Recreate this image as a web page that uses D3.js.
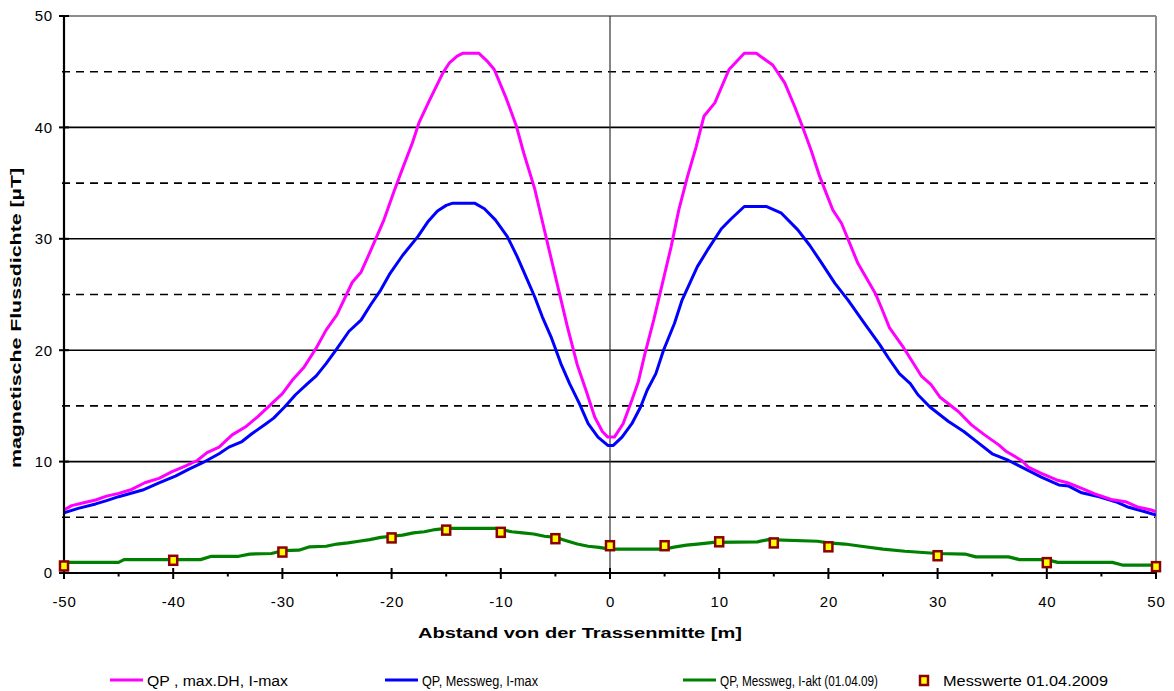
<!DOCTYPE html>
<html><head><meta charset="utf-8">
<script src="https://cdn.jsdelivr.net/npm/d3@7"></script>
<style>body{margin:0;background:#fff}svg{display:block}text{font-family:"Liberation Sans",Arial,sans-serif}</style>
</head><body><svg id="c" width="1174" height="691"></svg>
<script>
// ---- data ----
const xTicks = [-50,-40,-30,-20,-10,0,10,20,30,40,50];
const yTicks = [0,10,20,30,40,50];
const yMinor = [5,15,25,35,45];
const xTitle = "Abstand von der Trassenmitte [m]";
const yTitle = "magnetische Flussdichte [µT]";
const seriesNames = ["QP , max.DH, I-max","QP, Messweg, I-max","QP, Messweg, I-akt (01.04.09)","Messwerte 01.04.2009"];

const magentaX = [-50,-49.3,-48.2,-47.1,-46.1,-45,-43.8,-42.6,-41.3,-40.1,-38.9,-37.8,-36.9,-35.8,-34.6,-33.4,-32.3,-31.1,-30,-29.1,-28,-26.9,-26,-25,-23.6,-22.8,-21.8,-20.7,-19.8,-19,-18.1,-17.5,-16.6,-15.3,-14.7,-14,-13.5,-12,-11.2,-10.6,-9.5,-8.6,-7.9,-6.9,-6.3,-5.6,-4.7,-3.9,-3,-2.2,-1.4,-0.7,-0.2,0.4,1.2,2,2.6,3.2,4,4.8,5.6,6.3,7.1,7.9,8.6,9.6,10.9,12.3,13.4,14.9,16,16.9,17.5,18.4,19.2,20.4,21.2,22.7,24.3,24.9,25.6,26.9,28.5,29.4,30.2,31.1,31.9,33.1,34.3,35.6,36.3,37.7,38.3,39.5,40.9,41.9,43.2,44.4,45.9,47.2,48.4,49.6,50];
const magentaY = [5.65,6.05,6.3,6.55,6.9,7.15,7.5,8.1,8.5,9.1,9.6,10.1,10.8,11.3,12.4,13.1,14,15.1,16.1,17.3,18.5,20.2,21.8,23.2,26.1,27,29.2,31.7,34.2,36.3,38.6,40.4,42.3,44.9,45.8,46.4,46.65,46.65,45.9,45.2,42.6,40.2,37.7,34.5,32,29.1,25.4,22.1,18.7,16.4,14,12.7,12.2,12.2,13.4,15.5,17.2,19.7,22.7,26,29.3,32.6,35.6,38.3,41,42.2,45.2,46.65,46.65,45.6,44,41.9,40.4,38,35.6,32.6,31.4,27.8,25.1,23.7,22,20.2,17.7,16.9,15.8,15.1,14.5,13.3,12.4,11.5,10.9,10.1,9.5,8.95,8.35,8.1,7.6,7.1,6.6,6.4,5.9,5.65,5.5];

const blueX = [-50,-48.7,-47.1,-46.1,-45,-42.8,-41.3,-39.8,-38.6,-37.3,-35.8,-34.9,-33.7,-32.8,-31.5,-30.8,-29.8,-28.8,-27.7,-26.9,-26,-25.1,-23.9,-22.8,-21.9,-21,-20.2,-19,-17.6,-16.7,-15.8,-15,-14.4,-12.4,-11.5,-10.5,-9.4,-8.5,-7.7,-6.9,-6.2,-5.4,-4.5,-3.7,-2.8,-2,-1.1,-0.2,0.3,1.1,2,2.8,3.4,4.2,4.9,5.9,6.6,7.3,8,9,10.2,11.1,12.3,14.3,15.7,17.2,18.3,19.4,20.6,21.8,23.3,24.7,25.5,26.5,27.5,28.2,29.3,31,32.4,33.7,35,36.5,37.7,39.5,41.1,42,43.2,44.8,46.3,47.5,49,50];
const blueY = [5.4,5.8,6.2,6.5,6.85,7.45,8.1,8.7,9.3,9.9,10.7,11.3,11.8,12.5,13.4,13.9,14.9,16,17,17.7,18.8,20,21.7,22.7,24.1,25.4,26.8,28.5,30.2,31.5,32.5,33,33.2,33.2,32.7,31.7,30.2,28.4,26.6,24.8,23,21.2,18.8,17,15.2,13.4,12.2,11.45,11.45,12.2,13.4,14.9,16.4,17.9,20,22.4,24.5,26,27.5,29.1,30.9,31.8,32.9,32.9,32.3,30.8,29.4,27.8,26,24.5,22.4,20.5,19.3,17.9,17,16,14.9,13.6,12.7,11.7,10.7,10.1,9.5,8.6,7.9,7.8,7.2,6.85,6.4,5.9,5.5,5.2];

const greenX = [-50,-45,-44.5,-37.5,-36.5,-34,-33,-31,-30,-28.5,-27.5,-26,-25,-24,-23,-22,-21,-20,-19,-18,-17,-16,-15,-10.5,-10,-9,-8,-7,-6,-5,-4,-3,-2,-1,0,5,6,7,8,9.5,13.5,14.5,19,20,21.5,23,25,27,30,32.5,33.5,36.5,37.5,40,41,46,47,50];
const greenY = [0.95,0.95,1.2,1.2,1.5,1.5,1.7,1.75,2.0,2.05,2.35,2.4,2.6,2.7,2.85,3.0,3.2,3.3,3.4,3.6,3.7,3.9,4.0,4.0,3.9,3.7,3.6,3.5,3.3,3.2,2.9,2.6,2.4,2.3,2.15,2.15,2.35,2.5,2.6,2.75,2.8,3.0,2.85,2.7,2.6,2.4,2.15,1.95,1.75,1.7,1.45,1.45,1.2,1.2,0.95,0.95,0.7,0.7];

const measX = [-50,-40,-30,-20,-15,-10,-5,0,5,10,15,20,30,40,50];
const measY = [0.63,1.14,1.88,3.15,3.85,3.65,3.08,2.45,2.45,2.8,2.7,2.35,1.55,0.93,0.57];

// ---- layout ----
const svg = d3.select("#c");
const L = 64, R = 1156, T = 16, B = 573;
const x = d3.scaleLinear().domain([-50,50]).range([L,R]);
const y = d3.scaleLinear().domain([0,50]).range([B,T]);

// minor dashed grid
svg.append("g").selectAll("line").data(yMinor).join("line")
  .attr("x1",L-2).attr("x2",R).attr("y1",d=>y(d)).attr("y2",d=>y(d))
  .attr("stroke","#000").attr("stroke-width",1.6).attr("stroke-dasharray","8,6");
// major grid
svg.append("g").selectAll("line").data(yTicks.filter(d=>d>0&&d<50)).join("line")
  .attr("x1",L).attr("x2",R).attr("y1",d=>y(d)).attr("y2",d=>y(d))
  .attr("stroke","#000").attr("stroke-width",1.6);
// plot border top/right (gray)
svg.append("line").attr("x1",L).attr("x2",R).attr("y1",y(50)).attr("y2",y(50)).attr("stroke","#8c8c8c").attr("stroke-width",2);
svg.append("line").attr("x1",R).attr("x2",R).attr("y1",T).attr("y2",B).attr("stroke","#8c8c8c").attr("stroke-width",2);
// vertical line at 0
svg.append("line").attr("x1",x(0)).attr("x2",x(0)).attr("y1",T).attr("y2",B).attr("stroke","#333").attr("stroke-width",1.2);

svg.append("clipPath").attr("id","pc").append("rect").attr("x",L).attr("y",T-3).attr("width",R-L).attr("height",B-T+3);
const line = d3.line().x(d=>x(d[0])).y(d=>y(d[1]));
const plot = svg.append("g").attr("clip-path","url(#pc)");
const series = [
  {xs:greenX, ys:greenY, c:"#008000", w:3.2},
  {xs:blueX, ys:blueY, c:"#0000ff", w:3},
  {xs:magentaX, ys:magentaY, c:"#ff00ff", w:3},
];
series.forEach(s=>{
  plot.append("path").datum(s.xs.map((v,i)=>[v,s.ys[i]]))
    .attr("d",line).attr("fill","none").attr("stroke",s.c).attr("stroke-width",s.w).attr("stroke-linejoin","round");
});

// axes
const xAxis = d3.axisBottom(x).tickValues(xTicks).tickSize(0).tickFormat(d=>d);
const gx = svg.append("g").attr("transform",`translate(0,${B})`).call(xAxis);
gx.select(".domain").remove();
gx.selectAll("text").attr("font-size",15).attr("dy",null).attr("y",34).attr("fill","#000").style("letter-spacing","0.8px").attr("font-family","Liberation Sans, Arial, sans-serif");
svg.append("line").attr("x1",L).attr("x2",R).attr("y1",B).attr("y2",B).attr("stroke","#000").attr("stroke-width",2.2);
svg.append("g").selectAll("line").data(xTicks).join("line")
  .attr("x1",d=>x(d)).attr("x2",d=>x(d)).attr("y1",B-5).attr("y2",B+6).attr("stroke","#000").attr("stroke-width",2);
svg.append("g").selectAll("line").data(xTicks.slice(0,-1).map(d=>d+5)).join("line")
  .attr("x1",d=>x(d)).attr("x2",d=>x(d)).attr("y1",B).attr("y2",B+3.5).attr("stroke","#000").attr("stroke-width",2);

const yAxis = d3.axisLeft(y).tickValues(yTicks).tickSize(0).tickFormat(d=>d);
const gy = svg.append("g").attr("transform",`translate(${L},0)`).call(yAxis);
gy.select(".domain").remove();
gy.selectAll("text").attr("font-size",15).attr("x",-11).attr("fill","#000").style("letter-spacing","0.8px").attr("font-family","Liberation Sans, Arial, sans-serif");
svg.append("line").attr("x1",L).attr("x2",L).attr("y1",T).attr("y2",B).attr("stroke","#000").attr("stroke-width",2.2);
svg.append("g").selectAll("line").data(yTicks).join("line")
  .attr("x1",L-5).attr("x2",L+5).attr("y1",d=>y(d)).attr("y2",d=>y(d)).attr("stroke","#000").attr("stroke-width",2);

// measurement markers
svg.append("g").selectAll("rect").data(measX.map((v,i)=>[v,measY[i]])).join("rect")
  .attr("x",d=>x(d[0])-4).attr("y",d=>y(d[1])-4.5).attr("width",8).attr("height",9)
  .attr("fill","#ffff00").attr("stroke","#8b0000").attr("stroke-width",2.5);

// titles
svg.append("text").attr("x",580).attr("y",638).attr("text-anchor","middle").attr("font-size",14).attr("font-weight","bold")
  .attr("textLength",324).attr("lengthAdjust","spacingAndGlyphs").text(xTitle);
svg.append("text").attr("transform",`translate(21,318) rotate(-90)`).attr("text-anchor","middle").attr("font-size",14).attr("font-weight","bold")
  .attr("textLength",300).attr("lengthAdjust","spacingAndGlyphs").text(yTitle);

// legend
const legX = [110,385,683,924];
const legW = [141,116,158,165];
const lg = svg.append("g");
[["#ff00ff",0],["#0000ff",1],["#008000",2]].forEach(([c,i])=>{
  lg.append("line").attr("x1",legX[i]).attr("x2",legX[i]+33).attr("y1",680).attr("y2",680).attr("stroke",c).attr("stroke-width",3.2);
  lg.append("text").attr("x",legX[i]+37).attr("y",686).attr("font-size",14)
    .attr("textLength",legW[i]).attr("lengthAdjust","spacingAndGlyphs").text(seriesNames[i]);
});
lg.append("rect").attr("x",legX[3]-4).attr("y",676).attr("width",8).attr("height",9).attr("fill","#ffff00").attr("stroke","#8b0000").attr("stroke-width",2.5);
lg.append("text").attr("x",943).attr("y",686).attr("font-size",14).attr("textLength",legW[3]).attr("lengthAdjust","spacingAndGlyphs").text(seriesNames[3]);
</script></body></html>
